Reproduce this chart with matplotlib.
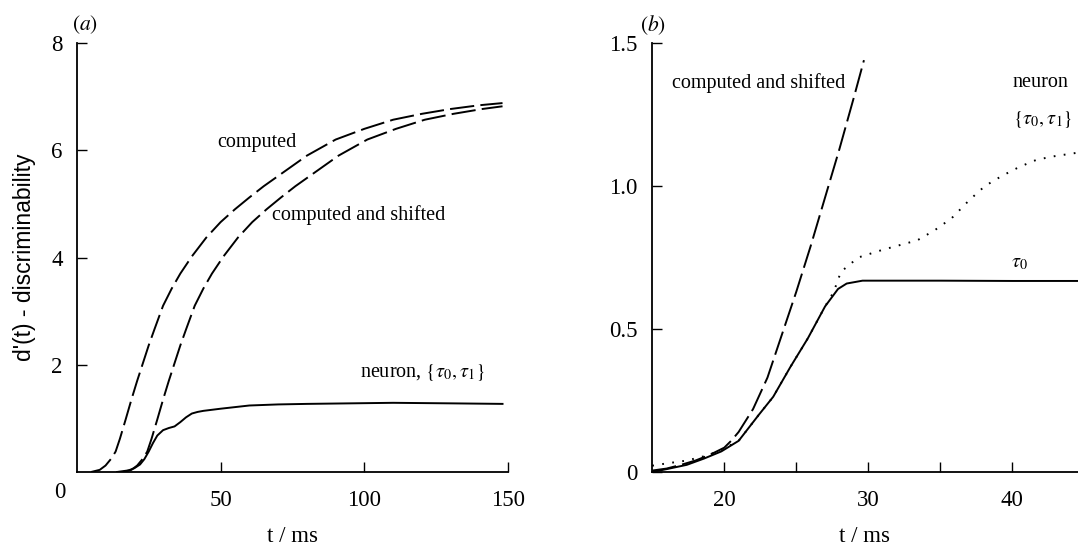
import matplotlib
matplotlib.use("Agg")
import matplotlib.pyplot as plt

plt.rcParams["font.family"] = ["Liberation Serif", "DejaVu Serif"]
plt.rcParams["mathtext.fontset"] = "stix"

# (a) full time course, t in ms
t_comp = [5, 8, 10, 12, 13.5, 15, 17, 19, 21, 23, 25, 27, 30, 33, 36, 40, 45, 50,
          55, 60, 65, 70, 80, 90, 100, 110, 120, 130, 140, 148]
d_comp = [0, 0.04, 0.12, 0.25, 0.38, 0.62, 0.98, 1.35, 1.7, 2.03, 2.36, 2.66, 3.1,
          3.42, 3.7, 4.02, 4.37, 4.66, 4.9, 5.12, 5.33, 5.52, 5.9, 6.2, 6.4, 6.57,
          6.68, 6.77, 6.84, 6.88]

t_shift = [16, 19, 21, 23, 24.5, 26, 28, 30, 32, 34, 36, 38, 41, 44, 47, 51, 56, 61,
           66, 71, 76, 81, 91, 101, 111, 121, 131, 141, 148]
d_shift = [0, 0.04, 0.12, 0.25, 0.38, 0.62, 0.98, 1.35, 1.7, 2.03, 2.36, 2.66, 3.1,
           3.42, 3.7, 4.02, 4.37, 4.66, 4.9, 5.12, 5.33, 5.52, 5.9, 6.2, 6.4, 6.57,
           6.68, 6.77, 6.82]

t_neur = [14, 18, 20, 22, 23.5, 25, 26.5, 28, 30, 32, 34, 36, 38, 40, 42, 44, 47,
          50, 55, 60, 70, 80, 95, 110, 130, 148]
d_neur = [0, 0.03, 0.07, 0.14, 0.24, 0.38, 0.54, 0.68, 0.78, 0.82, 0.85, 0.93, 1.02,
          1.09, 1.12, 1.14, 1.16, 1.18, 1.21, 1.24, 1.26, 1.27, 1.28, 1.29, 1.28, 1.27]

# (b) zoom on the onset
tb_shift = [15, 16, 17, 18, 19, 20, 20.5, 21, 22, 23, 24, 25, 26, 27, 28, 29, 29.7]
db_shift = [0.005, 0.012, 0.025, 0.04, 0.06, 0.085, 0.11, 0.14, 0.22, 0.33, 0.48,
            0.63, 0.79, 0.96, 1.13, 1.31, 1.44]

tb_tau0 = [15, 16, 17.4, 18.6, 19.8, 21.0, 22.4, 23.4, 24.6, 25.8, 27.0, 27.9, 28.5,
           29.6, 31, 35, 40, 45]
db_tau0 = [0.0, 0.01, 0.025, 0.047, 0.072, 0.109, 0.2, 0.263, 0.368, 0.467, 0.579,
           0.64, 0.659, 0.669, 0.669, 0.669, 0.668, 0.668]

tb_both = [15, 16, 17.4, 18.6, 19.6, 21.0, 22.4, 23.4, 24.6, 25.8, 27.0, 27.6, 28.1,
           29.3, 31, 33.4, 34.6, 35.8, 37, 38.1, 39.3, 40.5, 41.7, 42.9, 44.6]
db_both = [0.022, 0.03, 0.04, 0.055, 0.072, 0.109, 0.2, 0.263, 0.368, 0.467, 0.579,
           0.63, 0.70, 0.75, 0.777, 0.81, 0.845, 0.888, 0.95, 1.0, 1.036, 1.067,
           1.092, 1.104, 1.117]

lw = 1.4
dash = (0, (12.5, 3.2))
dots = (0, (0.9, 4.3))

fig = plt.figure(figsize=(10.78, 5.53), dpi=100)
axa = fig.add_axes([0.0712, 0.1465, 0.4003, 0.7757])
axb = fig.add_axes([0.6045, 0.1465, 0.3955, 0.7757])

for ax in (axa, axb):
    ax.spines["top"].set_visible(False)
    ax.spines["right"].set_visible(False)
    ax.spines["left"].set_linewidth(1.3)
    ax.spines["bottom"].set_linewidth(1.3)
    ax.tick_params(direction="in", length=7, width=1, labelsize=16.5)
    ax.tick_params(axis="y", pad=10)
    ax.tick_params(axis="x", pad=13)
    ax.set_xlabel("t / ms", fontsize=16.5, labelpad=11)

# panel (a)
axa.plot(t_comp, d_comp, color="black", lw=lw, ls=dash)
axa.plot(t_shift, d_shift, color="black", lw=lw, ls=dash)
axa.plot(t_neur, d_neur, color="black", lw=lw)
axa.set_xlim(0, 150)
axa.set_ylim(0, 8)
axa.set_xticks([50, 100, 150])
axa.set_yticks([2, 4, 6, 8])
axa.annotate("0", xy=(0, 0), xytext=(-12, -15), textcoords="offset points",
             ha="center", va="center", fontsize=16.5)
axa.set_ylabel("d'(t) - discriminability", fontsize=16.5, labelpad=11,
               family=["Liberation Sans", "DejaVu Sans"])
axa.text(48.8, 6.15, "computed", fontsize=14.5, va="center")
axa.text(68.0, 4.79, "computed and shifted", fontsize=14.5, va="center")
axa.text(98.5, 1.85, r"neuron, $\{\tau_0,\tau_1\}$", fontsize=14.5, va="center")
axa.text(-1.6, 8.34, r"$(\mathit{a})$", fontsize=15.5, va="center")

# panel (b)
axb.plot(tb_shift, db_shift, color="black", lw=lw, ls=dash)
axb.plot(tb_both, db_both, color="black", lw=lw, ls=dots)
axb.plot(tb_tau0, db_tau0, color="black", lw=lw)
axb.set_xlim(14.96, 44.56)
axb.set_ylim(0, 1.5)
axb.set_xticks([20, 25, 30, 35, 40])
axb.set_xticklabels(["20", "", "30", "", "40"])
axb.set_yticks([0, 0.5, 1.0, 1.5])
axb.set_yticklabels(["0", "0.5", "1.0", "1.5"])
axb.text(16.36, 1.361, "computed and shifted", fontsize=14.5, va="center")
axb.text(40.0, 1.361, "neuron", fontsize=14.5, va="center")
axb.text(40.05, 1.234, r"$\{\tau_0,\tau_1\}$", fontsize=14.5, va="center")
axb.text(39.93, 0.733, r"$\tau_0$", fontsize=14.5, va="center")
axb.text(14.17, 1.563, r"$(\mathit{b})$", fontsize=15.5, va="center")

fig.savefig("out.png", dpi=100)
